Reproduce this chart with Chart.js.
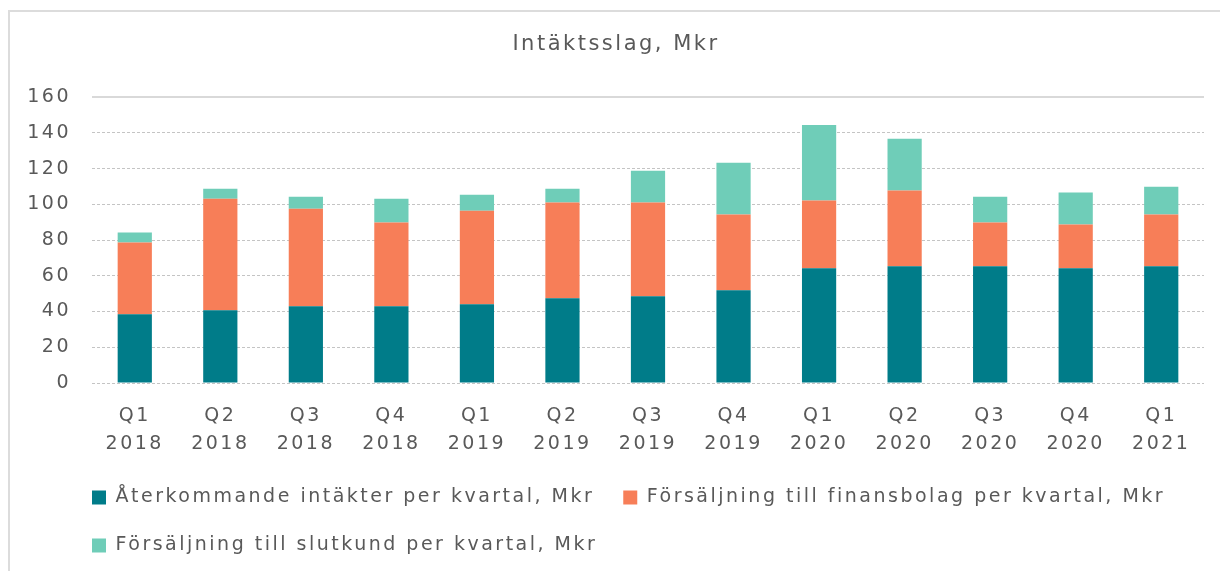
<!DOCTYPE html>
<html>
<head>
<meta charset="utf-8">
<script src="https://cdn.jsdelivr.net/npm/chart.js@4"></script>
<style>
  html, body { margin: 0; padding: 0; background: #ffffff; overflow: hidden; }
  #frame { position: absolute; left: 8px; top: 10px; width: 1300px; height: 700px; border: 2px solid #dcdcdc; box-sizing: border-box; }
  #wrap { position: absolute; left: 0; top: 0; width: 1220px; height: 571px; }
</style>
</head>
<body>
<div id="frame"></div>
<div id="wrap"><canvas id="c"></canvas></div>
<script>
const quarters = ['Q1', 'Q2', 'Q3', 'Q4', 'Q1', 'Q2', 'Q3', 'Q4', 'Q1', 'Q2', 'Q3', 'Q4', 'Q1'];
const years = ['2018', '2018', '2018', '2018', '2019', '2019', '2019', '2019', '2020', '2020', '2020', '2020', '2021'];
const seriesNames = [
  'Återkommande intäkter per kvartal, Mkr',
  'Försäljning till finansbolag per kvartal, Mkr',
  'Försäljning till slutkund per kvartal, Mkr'
];
const recurring = [38.5, 40.7, 43.0, 43.0, 44.1, 47.4, 48.5, 51.9, 64.2, 65.3, 65.3, 64.2, 65.3];
const financeSales = [40.2, 62.5, 54.6, 46.8, 52.4, 53.6, 52.5, 42.4, 37.9, 42.4, 24.5, 24.5, 29.0];
const endCustomerSales = [5.6, 5.6, 6.7, 13.4, 8.9, 7.8, 17.8, 29.0, 42.4, 29.0, 14.5, 17.9, 15.6];
const yTicks = [0, 20, 40, 60, 80, 100, 120, 140, 160];
const titleText = 'Intäktsslag, Mkr';

const labels = quarters.map((q, i) => [q, years[i]]);
const textColor = '#595959';
const SPACING = '2.5px';

const spacingPlugin = {
  id: 'spacing',
  beforeUpdate(chart) { chart.ctx.letterSpacing = SPACING; },
  beforeLayout(chart) { chart.ctx.letterSpacing = SPACING; },
  beforeDraw(chart) {
    chart.ctx.letterSpacing = SPACING;
    if (chart.legend) { chart.legend.left = 63; }
  }
};

Chart.defaults.font.family = 'DejaVu Sans';
Chart.defaults.color = textColor;

new Chart(document.getElementById('c'), {
  type: 'bar',
  data: {
    labels: labels,
    datasets: [
      { label: seriesNames[0], data: recurring, backgroundColor: '#007c89', borderWidth: 0 },
      { label: seriesNames[1], data: financeSales, backgroundColor: '#f77e58', borderWidth: 0 },
      { label: seriesNames[2], data: endCustomerSales, backgroundColor: '#6fcdb8', borderWidth: 0 }
    ]
  },
  plugins: [spacingPlugin],
  options: {
    responsive: true,
    maintainAspectRatio: false,
    animation: false,
    layout: { padding: { left: 28, right: 16, top: 0, bottom: 6 } },
    datasets: { bar: { barPercentage: 0.4, categoryPercentage: 1.0 } },
    plugins: {
      title: {
        display: true,
        text: titleText,
        color: textColor,
        font: { size: 21, weight: 'normal', family: 'DejaVu Sans' },
        padding: { top: 32, bottom: 40 }
      },
      legend: {
        position: 'bottom',
        align: 'start',
        labels: {
          color: textColor,
          font: { size: 19, family: 'DejaVu Sans' },
          boxWidth: 14,
          boxHeight: 14,
          padding: 29
        }
      },
      tooltip: { enabled: false }
    },
    scales: {
      x: {
        stacked: true,
        afterFit(scale) { scale.height = 76; },
        grid: { display: false, drawTicks: false },
        border: { display: false },
        ticks: {
          color: textColor,
          font: { size: 19, lineHeight: 1.474 },
          padding: 19,
          maxRotation: 0,
          autoSkip: false
        }
      },
      y: {
        stacked: true,
        min: 0,
        max: 160,
        afterFit(scale) { scale.width = 64; },
        afterBuildTicks(scale) { scale.ticks = yTicks.map(v => ({ value: v })); },
        grid: {
          drawTicks: false,
          color: (ctx) => (ctx.tick && ctx.tick.value === 160) ? '#d9d9d9' : '#c4c4c4',
          lineWidth: (ctx) => (ctx.tick && ctx.tick.value === 160) ? 2 : 1
        },
        border: {
          display: false,
          dash: (ctx) => (ctx.tick && ctx.tick.value === 160) ? [] : [3, 2]
        },
        ticks: {
          color: textColor,
          font: { size: 19 },
          padding: 21
        }
      }
    }
  }
});
</script>
</body>
</html>
